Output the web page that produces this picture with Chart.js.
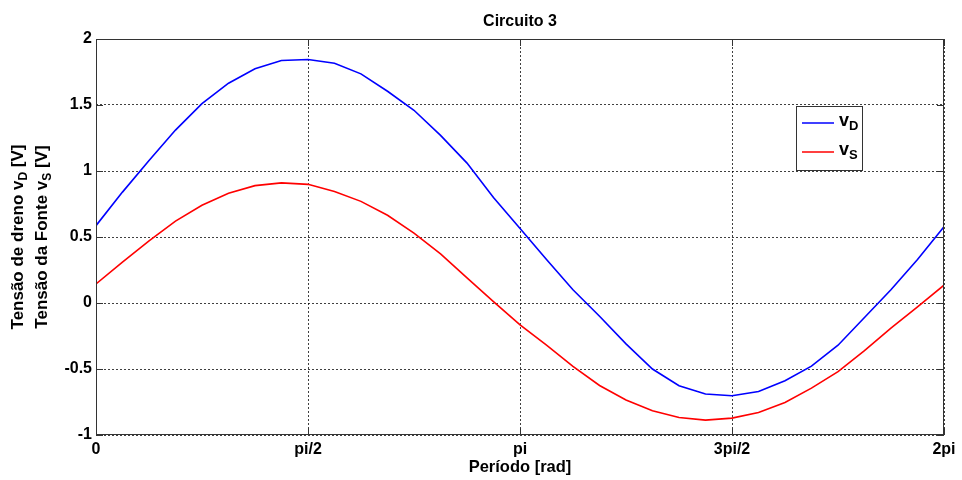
<!DOCTYPE html>
<html>
<head>
<meta charset="utf-8">
<script src="https://cdn.jsdelivr.net/npm/chart.js@4"></script>
<style>
  html, body { margin: 0; padding: 0; background: #fff; }
  #c { display: block; }
</style>
</head>
<body>
<canvas id="c" width="962" height="480"></canvas>
<script>
// periodo em radianos (pi/16 por passo)
const periodo = [0, 0.196, 0.393, 0.589, 0.785, 0.982, 1.178, 1.374, 1.571, 1.767, 1.963, 2.160, 2.356,
    2.553, 2.749, 2.945, 3.142, 3.338, 3.534, 3.731, 3.927, 4.123, 4.320, 4.516, 4.712, 4.909, 5.105,
    5.301, 5.498, 5.694, 5.890, 6.087, 6.283];

const vD = [0.586, 0.84, 1.08, 1.31, 1.51, 1.665, 1.774, 1.837, 1.845, 1.817, 1.736, 1.604, 1.46,
    1.27, 1.06, 0.80, 0.565, 0.33, 0.10, -0.10, -0.31, -0.50, -0.627, -0.69, -0.703, -0.67, -0.589,
    -0.478, -0.32, -0.11, 0.10, 0.33, 0.578];

const vS = [0.144, 0.31, 0.47, 0.62, 0.74, 0.831, 0.889, 0.91, 0.899, 0.845, 0.77, 0.665, 0.53,
    0.372, 0.19, 0.01, -0.165, -0.32, -0.48, -0.625, -0.735, -0.817, -0.867, -0.887, -0.872, -0.829, -0.754,
    -0.645, -0.52, -0.36, -0.19, -0.03, 0.135];

const xTickPos = [0, 1.5708, 3.1416, 4.7124, 6.2832];
const xTickLabels = ['0', 'pi/2', 'pi', '3pi/2', '2pi'];

const FONT = '"Liberation Sans", Arial, sans-serif';

function xy(xs, ys) {
    return xs.map(function (x, i) { return { x: x, y: ys[i] }; });
}

// texto com subscrito: parts = [[texto, sub?], ...]
function measureParts(ctx, parts, size, subSize) {
    let w = 0;
    parts.forEach(function (p) {
        ctx.font = 'bold ' + (p[1] ? subSize : size) + 'px ' + FONT;
        w += ctx.measureText(p[0]).width;
    });
    return w;
}
function drawParts(ctx, parts, x, y, size, subSize) {
    let cx = x;
    parts.forEach(function (p) {
        ctx.font = 'bold ' + (p[1] ? subSize : size) + 'px ' + FONT;
        ctx.fillText(p[0], cx, p[1] ? y + 4 : y);
        cx += ctx.measureText(p[0]).width;
    });
}

const decor = {
    id: 'decor',
    afterDraw(chart) {
        const ctx = chart.ctx;
        const a = chart.chartArea;
        const xs = chart.scales.x, ys = chart.scales.y;
        ctx.save();

        // caixa
        ctx.strokeStyle = '#333';
        ctx.lineWidth = 1;
        ctx.setLineDash([]);
        ctx.strokeRect(a.left + 0.5, a.top + 0.5, a.right - a.left - 1, a.bottom - a.top - 1);

        // marcas internas
        ctx.beginPath();
        xTickPos.forEach(function (v) {
            const px = Math.round(xs.getPixelForValue(v)) + 0.5;
            ctx.moveTo(px, a.bottom); ctx.lineTo(px, a.bottom - 7);
            ctx.moveTo(px, a.top); ctx.lineTo(px, a.top + 7);
        });
        ys.ticks.forEach(function (t) {
            const py = Math.round(ys.getPixelForValue(t.value)) + 0.5;
            ctx.moveTo(a.left, py); ctx.lineTo(a.left + 7, py);
            ctx.moveTo(a.right, py); ctx.lineTo(a.right - 7, py);
        });
        ctx.stroke();

        ctx.fillStyle = '#000';
        ctx.textBaseline = 'alphabetic';

        // titulo
        ctx.font = 'bold 16px ' + FONT;
        ctx.textAlign = 'center';
        ctx.fillText('Circuito 3', (a.left + a.right) / 2, 26);

        // eixo x
        ctx.font = 'bold 16.5px ' + FONT;
        ctx.fillText('Período [rad]', (a.left + a.right) / 2, 472);

        // eixo y (duas linhas, com subscritos)
        ctx.textAlign = 'left';
        const lines = [
            [['Tensão de dreno v', false], ['D', true], [' [V]', false]],
            [['Tensão da Fonte v', false], ['S', true], [' [V]', false]]
        ];
        const lineX = [23, 47];
        lines.forEach(function (parts, i) {
            const w = measureParts(ctx, parts, 17, 12);
            ctx.save();
            ctx.translate(lineX[i], (a.top + a.bottom) / 2);
            ctx.rotate(-Math.PI / 2);
            drawParts(ctx, parts, -w / 2, 0, 17, 12);
            ctx.restore();
        });

        // legenda
        const lx = 796, ly = 106, lw = 66, lh = 64;
        ctx.fillStyle = '#fff';
        ctx.fillRect(lx, ly, lw, lh);
        ctx.strokeStyle = '#333';
        ctx.strokeRect(lx + 0.5, ly + 0.5, lw, lh);
        const items = [
            { color: '#0000ff', parts: [['v', false], ['D', true]], y: 123 },
            { color: '#ff0000', parts: [['v', false], ['S', true]], y: 152 }
        ];
        items.forEach(function (it) {
            ctx.strokeStyle = it.color;
            ctx.lineWidth = 1.5;
            ctx.beginPath();
            ctx.moveTo(802, it.y); ctx.lineTo(834, it.y);
            ctx.stroke();
            ctx.fillStyle = '#000';
            drawParts(ctx, it.parts, 839, it.y + 3, 18, 13);
        });

        ctx.restore();
    }
};

const gridStyle = { color: 'rgba(0,0,0,0.75)', lineWidth: 1, drawTicks: false };

new Chart(document.getElementById('c'), {
    type: 'line',
    data: {
        datasets: [
            { label: 'vD', data: xy(periodo, vD), borderColor: '#0000ff', borderWidth: 1.6, pointRadius: 0, tension: 0 },
            { label: 'vS', data: xy(periodo, vS), borderColor: '#ff0000', borderWidth: 1.6, pointRadius: 0, tension: 0 }
        ]
    },
    options: {
        responsive: false,
        animation: false,
        layout: { padding: { left: 0, right: 18, top: 39, bottom: 0 } },
        plugins: {
            legend: { display: false },
            title: { display: false },
            tooltip: { enabled: false }
        },
        scales: {
            x: {
                type: 'linear',
                min: 0,
                max: 6.2832,
                afterBuildTicks: function (scale) {
                    scale.ticks = xTickPos.map(function (v) { return { value: v }; });
                },
                afterFit: function (scale) { scale.height = 45; },
                grid: gridStyle,
                border: { display: false, dash: [2, 2] },
                ticks: {
                    autoSkip: false,
                    maxRotation: 0,
                    padding: 5,
                    color: '#000',
                    font: { family: FONT, size: 16, weight: 'bold' },
                    callback: function (v, i) { return xTickLabels[i]; }
                }
            },
            y: {
                min: -1,
                max: 2,
                afterFit: function (scale) { scale.width = 96; },
                grid: gridStyle,
                border: { display: false, dash: [2, 2] },
                ticks: {
                    stepSize: 0.5,
                    padding: 4,
                    color: '#000',
                    font: { family: FONT, size: 16, weight: 'bold' },
                    callback: function (v) { return String(v); }
                }
            }
        }
    },
    plugins: [decor]
});
</script>
</body>
</html>
